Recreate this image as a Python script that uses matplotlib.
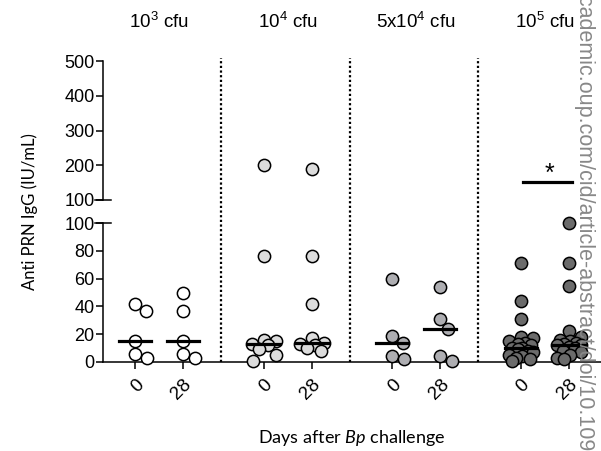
import numpy as np
import matplotlib
matplotlib.use('Agg')
import matplotlib.pyplot as plt

plt.rcParams['font.family'] = 'Liberation Sans'
plt.rcParams['mathtext.fontset'] = 'custom'
plt.rcParams['mathtext.rm'] = 'Liberation Sans'
plt.rcParams['mathtext.it'] = 'Lato:italic'

groups = ['10$^{3}$ cfu', '10$^{4}$ cfu', '5x10$^{4}$ cfu', '10$^{5}$ cfu']
days = ['0', '28']
colors = ['#ffffff', '#dcdcdc', '#aeaeb2', '#6b6b6b']

g1_d0 = [42, 37, 15, 6, 3]
g1_d28 = [50, 37, 15, 6, 3]
g2_d0 = [200, 76, 16, 15, 13, 12, 9, 5, 1]
g2_d28 = [190, 76, 42, 17, 14, 13, 12, 10, 8]
g3_d0 = [60, 19, 14, 4, 2]
g3_d28 = [54, 31, 24, 4, 1]
g4_d0 = [71, 44, 31, 18, 17, 15, 14, 13, 12, 10, 10, 9, 8, 7, 5, 4, 3, 2, 1]
g4_d28 = [100, 71, 55, 22, 18, 16, 15, 14, 13, 12, 12, 11, 10, 8, 7, 5, 3, 2]
data = [[g1_d0, g1_d28], [g2_d0, g2_d28], [g3_d0, g3_d28], [g4_d0, g4_d28]]

gap = 2.68
xlim = (-0.67, 9.71)

fig = plt.figure(figsize=(6.01, 4.51), dpi=100)
ax_top = fig.add_axes([103/601, 1-200/451, 1-103/601, 139/451])
ax_bot = fig.add_axes([103/601, 1-362/451, 1-103/601, 139/451])

def ypix(v):
    # pixel height used only for spreading the dots
    return v*1.39 if v <= 100 else 139 + 23 + (v-100)*0.3475

def swarm(vals, diam=12.0, maxoff=12.0):
    placed = []
    offs = {}
    cands = [0.0]
    k = 1.5
    while k <= maxoff:
        cands += [k, -k]
        k += 1.5
    for i in np.argsort(vals)[::-1]:
        y = ypix(vals[i])
        best, bestd = 0.0, -1
        for c in cands:
            dmin = min([np.hypot(c-px, y-py) for px, py in placed] + [1e9])
            if dmin >= diam:
                best = c
                break
            if dmin > bestd + 0.5:
                best, bestd = c, dmin
        placed.append((best, y))
        offs[i] = best / 48.0
    return [offs[i] for i in range(len(vals))]

ticks = []
for g, pair in enumerate(data):
    for d, vals in enumerate(pair):
        x0 = g*gap + d
        ticks.append(x0)
        vals = np.array(vals, dtype=float)
        xs = x0 + np.array(swarm(list(vals)))
        hi = vals > 100
        ax_top.scatter(xs[hi], vals[hi], s=78, facecolor=colors[g], edgecolor='black',
                       linewidth=1.1, zorder=3, clip_on=False)
        ax_bot.scatter(xs[~hi], vals[~hi], s=78, facecolor=colors[g], edgecolor='black',
                       linewidth=1.1, zorder=3, clip_on=False)
        med = np.median(vals)
        ax_bot.plot([x0-0.33, x0+0.33], [med, med], color='black', lw=2.3, zorder=4)

for ax in (ax_top, ax_bot):
    ax.set_xlim(*xlim)
    for s in ['top', 'right']:
        ax.spines[s].set_visible(False)
    ax.spines['left'].set_linewidth(1.1)
    ax.tick_params(axis='y', length=5, width=1.1, labelsize=13, pad=1)

ax_top.set_ylim(100, 500)
ax_top.set_yticks([100, 200, 300, 400, 500])
ax_top.spines['bottom'].set_visible(False)
ax_top.set_xticks([])

ax_bot.set_ylim(0, 100)
ax_bot.set_yticks([0, 20, 40, 60, 80, 100])
ax_bot.spines['bottom'].set_linewidth(1.1)
ax_bot.set_xticks(ticks)
ax_bot.set_xticklabels(days*4, rotation=45, ha='right', va='top',
                       rotation_mode='anchor', fontsize=13.5)
ax_bot.tick_params(axis='x', length=5, width=1.1, pad=5)

# break marks
for ax, y in ((ax_top, 0), (ax_bot, 1)):
    ax.plot([-0.017, 0.017], [y, y], transform=ax.transAxes, color='black',
            lw=1.1, clip_on=False)

# dotted separators
for g in range(3):
    xs = g*gap + 1 + (gap-1)/2 - 0.05
    ax_bot.plot([xs, xs], [0, 2.19], color='black', lw=1.6, ls=(0, (1, 1.1)),
                transform=ax_bot.get_xaxis_transform(), clip_on=False)

# group titles
for g, name in enumerate(groups):
    ax_top.text(g*gap + 0.5, 1.28, name, transform=ax_top.get_xaxis_transform(),
                ha='center', va='center', fontsize=13.5)

# significance
ax_top.plot([3*gap + 0.04, 3*gap + 1.06], [152, 152], color='black', lw=2.3,
            clip_on=False)
ax_top.text(3*gap + 0.6, 175, '*', ha='center', va='center', fontsize=18)

fig.text(30/601, 1-212/451, 'Anti PRN IgG (IU/mL)', rotation=90, ha='center',
         va='center', fontsize=12, family='Lato')
fig.text(352/601, 1-438/451, 'Days after $\\it{Bp}$ challenge', ha='center',
         va='center', fontsize=13, family='Lato')

fig.text(584/601, 1.035, 'academic.oup.com/cid/article-abstract/doi/10.1093/cid',
         rotation=-90, ha='center', va='top', fontsize=15.5, color='#888888')

fig.savefig('out.png', dpi=100)
